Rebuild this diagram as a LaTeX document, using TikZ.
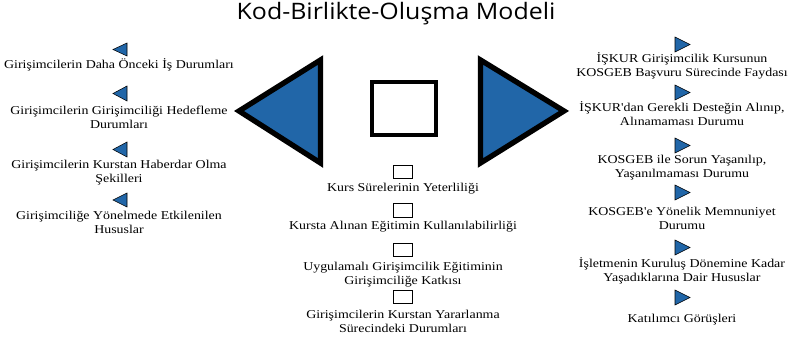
\documentclass[tikz,border=0pt]{standalone}
\usepackage{fontspec}
\setmainfont{Liberation Serif}
\newfontfamily\labelfont[FakeStretch=1.16]{Liberation Serif}
\newfontfamily\titlefont[FakeStretch=1.1]{Open Sans}
\usepackage{tikz}
\usetikzlibrary{positioning}
\definecolor{markblue}{RGB}{33,102,168}

\begin{document}
\begin{tikzpicture}[
    x=0.75pt, y=-0.75pt,
    lbl/.style={font=\labelfont\fontsize{9}{10.5}\selectfont, align=center, inner sep=0pt},
    marker/.style={draw=black, line width=0.4pt, fill=markblue, line join=miter},
    bigtri/.style={draw=black, line width=4pt, fill=markblue, line join=miter},
    bigbox/.style={draw=black, line width=3pt, fill=white},
    smallbox/.style={draw=black, line width=0.9pt, fill=white}
]
\useasboundingbox (0,0) rectangle (791,338);

% title
\node (title) [font=\titlefont\fontsize{17}{19}\selectfont, inner sep=0pt] at (396,14) {Kod-Birlikte-Oluşma Modeli};

% big symbols
\draw[bigtri] (239,111) -- (320.5,60) -- (320.5,163) -- cycle;
\draw[bigbox] (371.5,82) rectangle (435.5,135);
\draw[bigtri] (564,111) -- (480.5,60) -- (480.5,163) -- cycle;

% left column
\draw[marker] (127,43) -- (113,49.5) -- (127,56) -- cycle;
\node (left1) [lbl] at (119,65) {Girişimcilerin Daha Önceki İş Durumları};
\draw[marker] (127,86) -- (113,93.5) -- (127,101) -- cycle;
\node (left2) [lbl] at (119,117) {Girişimcilerin Girişimciliği Hedefleme\\Durumları};
\draw[marker] (127,142) -- (113,149.5) -- (127,157) -- cycle;
\node (left3) [lbl] at (119,172.5) {Girişimcilerin Kurstan Haberdar Olma\\Şekilleri};
\draw[marker] (127,193) -- (113,200) -- (127,207) -- cycle;
\node (left4) [lbl] at (119,222) {Girişimciliğe Yönelmede Etkilenilen\\Hususlar};

% middle column
\draw[smallbox] (393.5,165.5) rectangle (412.5,178.5);
\node (mid1) [lbl] at (403,189) {Kurs Sürelerinin Yeterliliği};
\draw[smallbox] (393.5,203.5) rectangle (412.5,217.5);
\node (mid2) [lbl] at (403,227) {Kursta Alınan Eğitimin Kullanılabilirliği};
\draw[smallbox] (393.5,243.5) rectangle (412.5,256.5);
\node (mid3) [lbl] at (403,274.5) {Uygulamalı Girişimcilik Eğitiminin\\Girişimciliğe Katkısı};
\draw[smallbox] (393.5,290.5) rectangle (412.5,303.5);
\node (mid4) [lbl] at (403,321) {Girişimcilerin Kurstan Yararlanma\\Sürecindeki Durumları};

% right column
\draw[marker] (675,37) -- (690,44.5) -- (675,52) -- cycle;
\node (right1) [lbl] at (682,65.5) {İŞKUR Girişimcilik Kursunun\\KOSGEB Başvuru Sürecinde Faydası};
\draw[marker] (675,85) -- (690,92.5) -- (675,100) -- cycle;
\node (right2) [lbl] at (682,114) {İŞKUR'dan Gerekli Desteğin Alınıp,\\Alınamaması Durumu};
\draw[marker] (675,138) -- (690,145.5) -- (675,153) -- cycle;
\node (right3) [lbl] at (682,168) {KOSGEB ile Sorun Yaşanılıp,\\Yaşanılmaması Durumu};
\draw[marker] (675,185) -- (690,192.5) -- (675,200) -- cycle;
\node (right4) [lbl] at (682,218) {KOSGEB'e Yönelik Memnuniyet\\Durumu};
\draw[marker] (675,240) -- (690,247.5) -- (675,255) -- cycle;
\node (right5) [lbl] at (682,270.5) {İşletmenin Kuruluş Dönemine Kadar\\Yaşadıklarına Dair Hususlar};
\draw[marker] (675,290) -- (690,297.5) -- (675,305) -- cycle;
\node (right6) [lbl] at (682,320) {Katılımcı Görüşleri};

\end{tikzpicture}
\end{document}
